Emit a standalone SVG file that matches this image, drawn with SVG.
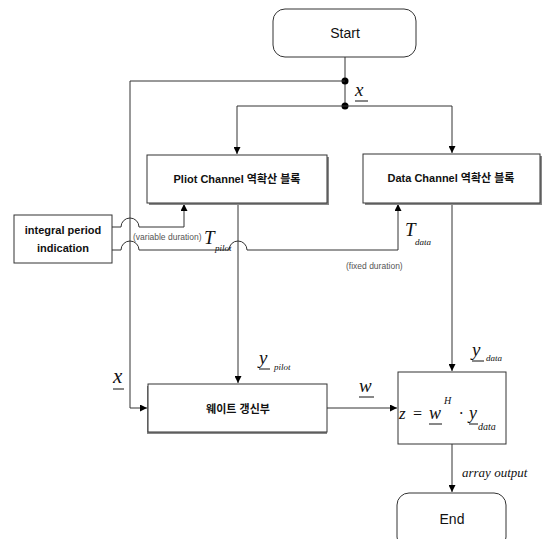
<svg xmlns="http://www.w3.org/2000/svg" width="547" height="539" viewBox="0 0 547 539">
<defs>
<marker id="ah" viewBox="0 0 10 10" refX="10" refY="5" markerWidth="7" markerHeight="7" markerUnits="userSpaceOnUse" orient="auto"><path d="M0,0 L10,5 L0,10 z" fill="#000"/></marker>
<style>
.ln{fill:none;stroke:#333;stroke-width:1}
.box{fill:#fff;stroke:#333;stroke-width:1}
.sh{fill:#888;stroke:none}
.lbl{font-family:"Liberation Sans","Noto Sans CJK KR",sans-serif;font-size:14px;fill:#111}
.bt{font-family:"Liberation Sans","Noto Sans CJK KR",sans-serif;font-size:11px;font-weight:bold;fill:#111}
.m{font-family:"Liberation Serif",serif;font-style:italic;fill:#111}
.sm{font-family:"Liberation Sans",sans-serif;font-size:8.5px;fill:#555}
</style>
</defs>
<rect width="547" height="539" fill="#fff"/>
<g id="connectors">
<path class="ln" d="M345,57 V106"/>
<circle cx="345" cy="81" r="3.5" fill="#000"/>
<circle cx="345" cy="106" r="3.5" fill="#000"/>
<path class="ln" d="M345,81 H130 V408 H147" marker-end="url(#ah)"/>
<path class="ln" d="M237,106 H452"/>
<path class="ln" d="M237,106 V154" marker-end="url(#ah)"/>
<path class="ln" d="M452,106 V153" marker-end="url(#ah)"/>
<path class="ln" d="M112,227 H121 A9,9 0 0 1 139,227 H184 V204" marker-end="url(#ah)"/>
<path class="ln" d="M112,250 H121 A9,9 0 0 1 139,250 H229 A9,9 0 0 1 247,250 H398 V204" marker-end="url(#ah)"/>
<path class="ln" d="M238,205 V383" marker-end="url(#ah)"/>
<path class="ln" d="M452,205 V371" marker-end="url(#ah)"/>
<path class="ln" d="M327,408 H397" marker-end="url(#ah)"/>
<path class="ln" d="M452,444 V492" marker-end="url(#ah)"/>
</g>
<g id="start">
<rect class="box" x="273" y="9" width="143" height="48" rx="12"/>
<text class="lbl" x="345" y="38" text-anchor="middle">Start</text>
</g>
<g id="pilot">
<rect class="sh" x="149" y="157" width="180" height="48"/>
<rect class="box" x="147" y="155" width="180" height="48"/>
<text class="bt" x="237" y="183" text-anchor="middle">Pliot Channel 역확산 블록</text>
</g>
<g id="data">
<rect class="sh" x="365" y="156" width="177" height="49"/>
<rect class="box" x="363" y="154" width="177" height="49"/>
<text class="bt" x="451" y="182" text-anchor="middle">Data Channel 역확산 블록</text>
</g>
<g id="integral">
<rect class="box" x="14" y="215" width="98" height="48"/>
<text class="bt" x="63" y="234" text-anchor="middle">integral period</text>
<text class="bt" x="63" y="252" text-anchor="middle">indication</text>
</g>
<g id="weight">
<rect class="sh" x="147" y="386" width="180" height="48"/>
<rect class="box" x="148" y="384" width="179" height="48"/>
<text class="bt" x="238" y="413" text-anchor="middle">웨이트 갱신부</text>
</g>
<g id="zbox">
<rect class="box" x="398" y="372" width="108" height="72"/>
<text class="m" x="399" y="419" font-size="17">z</text>
<text class="m" x="412" y="419" font-size="16" font-style="normal">=</text>
<text class="m" x="429" y="419" font-size="18">w</text>
<line x1="429" y1="424" x2="442" y2="424" stroke="#111" stroke-width="1"/>
<text class="m" x="444" y="404" font-size="10">H</text>
<text class="m" x="459" y="419" font-size="16" font-style="normal">·</text>
<text class="m" x="469" y="419" font-size="18">y</text>
<line x1="469" y1="424" x2="478" y2="424" stroke="#111" stroke-width="1"/>
<text class="m" x="478" y="430" font-size="10">data</text>
</g>
<g id="end">
<rect class="box" x="397" y="493" width="109" height="56" rx="12"/>
<text class="lbl" x="452" y="524" text-anchor="middle">End</text>
</g>
<g id="labels">
<text class="m" x="355" y="96" font-size="19">x</text>
<line x1="355" y1="101" x2="368" y2="101" stroke="#111" stroke-width="1"/>
<text class="sm" x="133" y="240">(variable duration)</text>
<text class="m" x="204" y="244" font-size="19">T</text>
<text class="m" x="215" y="251" font-size="9">pilot</text>
<text class="m" x="405" y="236" font-size="19">T</text>
<text class="m" x="415" y="245" font-size="9">data</text>
<text class="sm" x="346" y="269">(fixed duration)</text>
<text class="m" x="113" y="383" font-size="21">x</text>
<line x1="113" y1="389" x2="124" y2="389" stroke="#111" stroke-width="1"/>
<text class="m" x="259" y="364" font-size="19">y</text>
<line x1="259" y1="369" x2="270" y2="369" stroke="#111" stroke-width="1"/>
<text class="m" x="274" y="370" font-size="9">pilot</text>
<text class="m" x="359" y="392" font-size="19">w</text>
<line x1="359" y1="397" x2="374" y2="397" stroke="#111" stroke-width="1"/>
<text class="m" x="472" y="356" font-size="19">y</text>
<line x1="472" y1="361" x2="484" y2="361" stroke="#111" stroke-width="1"/>
<text class="m" x="486" y="361" font-size="9">data</text>
<text class="m" x="462" y="477" font-size="13">array output</text>
</g>
</svg>
